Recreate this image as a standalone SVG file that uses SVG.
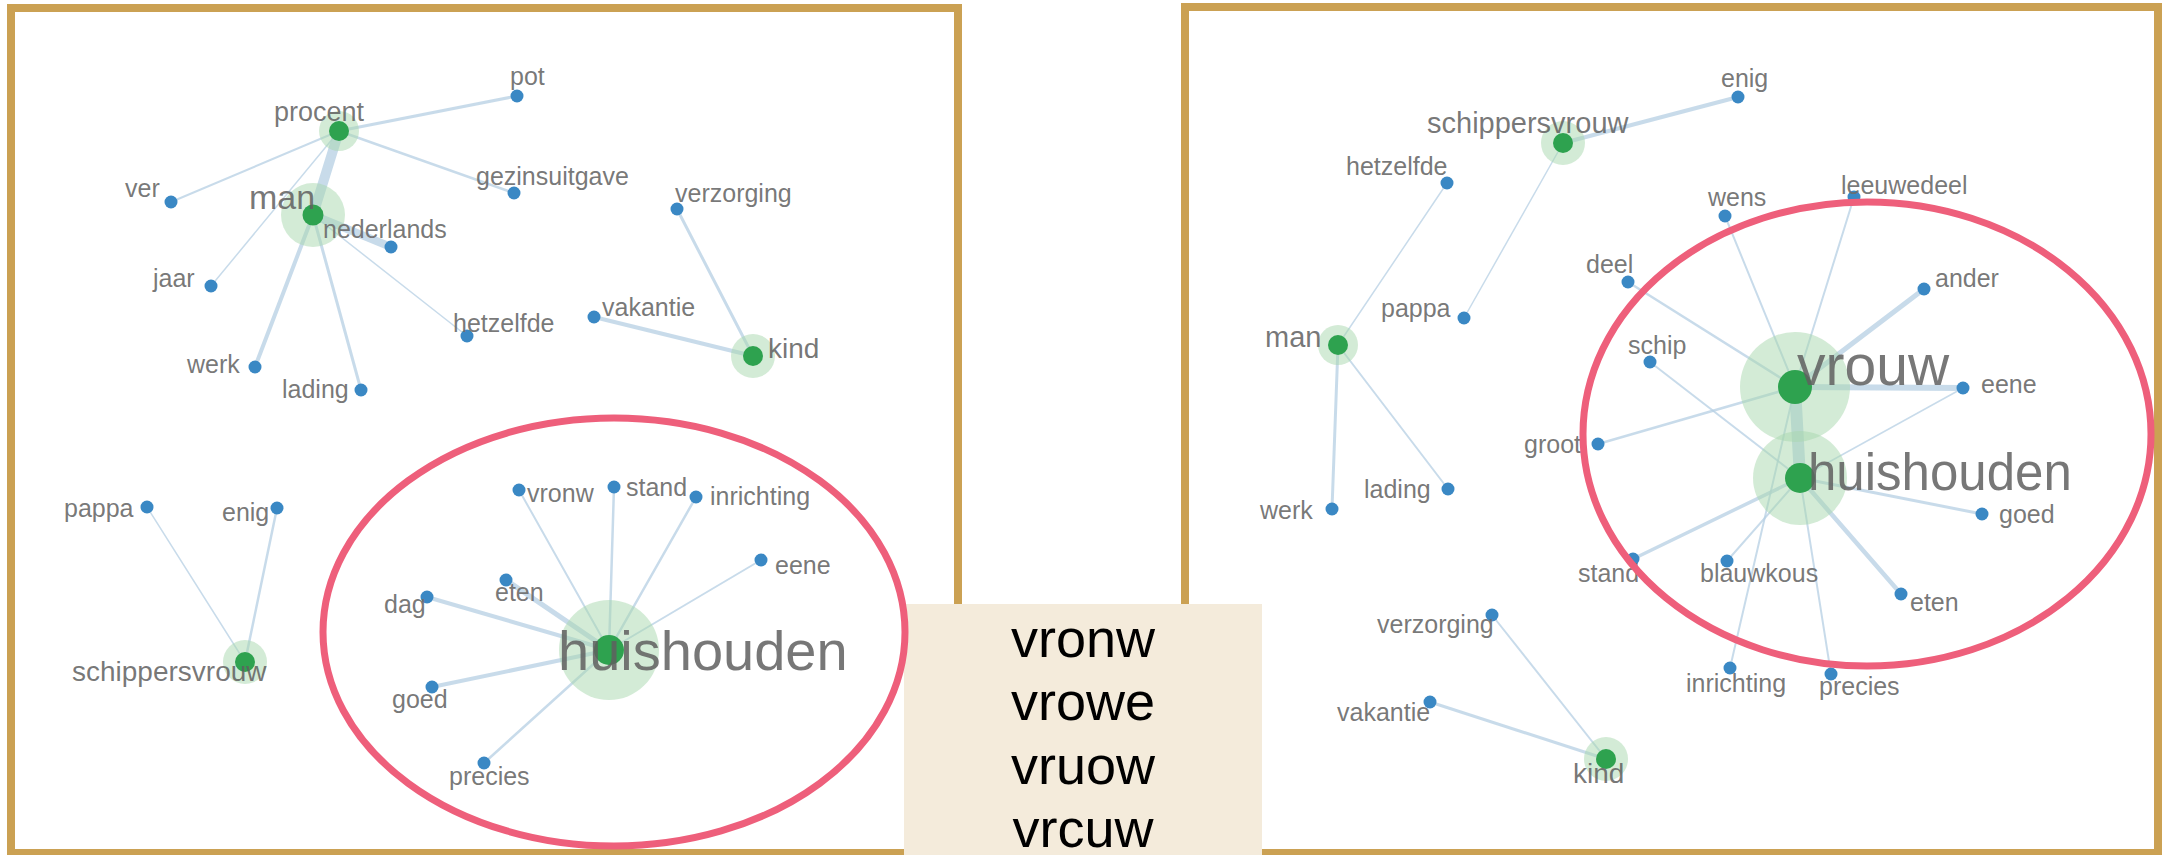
<svg xmlns="http://www.w3.org/2000/svg" width="2165" height="855" viewBox="0 0 2165 855">
<style>
.frame{fill:#ffffff;stroke:#CBA153;stroke-width:8}
.ring{fill:none;stroke:#EE5F7B;stroke-width:7}
.e{stroke:#b5cfe3;stroke-opacity:0.75;stroke-linecap:round;fill:none}
.halo{fill:#a8d8ad;fill-opacity:0.5}
.g{fill:#2ea24f}
.b{fill:#3a88c4}
.t{font-family:"Liberation Sans",Arial,sans-serif;font-size:25px;fill:#6c6c6c;fill-opacity:0.92}
.big{fill:#5f5f5f;fill-opacity:0.85}
.box{font-family:"Liberation Sans",Arial,sans-serif;font-size:54px;fill:#000;text-anchor:middle}
</style>
<rect x="0" y="0" width="2165" height="855" fill="#ffffff"/>
<rect class="frame" x="11" y="8" width="947" height="845"/>
<rect class="frame" x="1185" y="7" width="973" height="846"/>

<g id="connectors">
<!-- left panel -->
<line class="e" x1="339" y1="131" x2="517" y2="96" stroke-width="3"/>
<line class="e" x1="339" y1="131" x2="171" y2="202" stroke-width="2"/>
<line class="e" x1="339" y1="131" x2="514" y2="193" stroke-width="2.5"/>
<line class="e" x1="339" y1="131" x2="313" y2="215" stroke-width="10"/>
<line class="e" x1="339" y1="131" x2="211" y2="286" stroke-width="1.5"/>
<line class="e" x1="313" y1="215" x2="391" y2="247" stroke-width="8"/>
<line class="e" x1="313" y1="215" x2="255" y2="367" stroke-width="4"/>
<line class="e" x1="313" y1="215" x2="361" y2="390" stroke-width="3"/>
<line class="e" x1="313" y1="215" x2="467" y2="336" stroke-width="1.5"/>
<line class="e" x1="753" y1="356" x2="677" y2="209" stroke-width="3"/>
<line class="e" x1="753" y1="356" x2="594" y2="317" stroke-width="4"/>
<line class="e" x1="245" y1="662" x2="147" y2="507" stroke-width="1.5"/>
<line class="e" x1="245" y1="662" x2="277" y2="508" stroke-width="2.5"/>
<line class="e" x1="609" y1="650" x2="519" y2="490" stroke-width="2"/>
<line class="e" x1="609" y1="650" x2="614" y2="487" stroke-width="2.5"/>
<line class="e" x1="609" y1="650" x2="696" y2="497" stroke-width="2.5"/>
<line class="e" x1="609" y1="650" x2="761" y2="560" stroke-width="2"/>
<line class="e" x1="609" y1="650" x2="506" y2="580" stroke-width="5"/>
<line class="e" x1="609" y1="650" x2="427" y2="597" stroke-width="4"/>
<line class="e" x1="609" y1="650" x2="432" y2="687" stroke-width="4"/>
<line class="e" x1="609" y1="650" x2="484" y2="763" stroke-width="2.5"/>
<!-- right panel -->
<line class="e" x1="1563" y1="143" x2="1738" y2="97" stroke-width="4"/>
<line class="e" x1="1563" y1="143" x2="1464" y2="318" stroke-width="1.5"/>
<line class="e" x1="1338" y1="345" x2="1447" y2="183" stroke-width="1.5"/>
<line class="e" x1="1338" y1="345" x2="1332" y2="509" stroke-width="3"/>
<line class="e" x1="1338" y1="345" x2="1448" y2="489" stroke-width="2"/>
<line class="e" x1="1795" y1="387" x2="1800" y2="478" stroke-width="12"/>
<line class="e" x1="1795" y1="387" x2="1725" y2="216" stroke-width="2"/>
<line class="e" x1="1795" y1="387" x2="1854" y2="197" stroke-width="2"/>
<line class="e" x1="1795" y1="387" x2="1628" y2="282" stroke-width="2.5"/>
<line class="e" x1="1795" y1="387" x2="1924" y2="289" stroke-width="5"/>
<line class="e" x1="1795" y1="387" x2="1963" y2="388" stroke-width="6"/>
<line class="e" x1="1795" y1="387" x2="1598" y2="444" stroke-width="2.5"/>
<line class="e" x1="1795" y1="387" x2="1730" y2="668" stroke-width="2"/>
<line class="e" x1="1800" y1="478" x2="1650" y2="362" stroke-width="2"/>
<line class="e" x1="1800" y1="478" x2="1963" y2="388" stroke-width="1.5"/>
<line class="e" x1="1800" y1="478" x2="1633" y2="559" stroke-width="3.5"/>
<line class="e" x1="1800" y1="478" x2="1727" y2="561" stroke-width="2"/>
<line class="e" x1="1800" y1="478" x2="1831" y2="674" stroke-width="2"/>
<line class="e" x1="1800" y1="478" x2="1901" y2="594" stroke-width="4.5"/>
<line class="e" x1="1800" y1="478" x2="1982" y2="514" stroke-width="3"/>
<line class="e" x1="1606" y1="759" x2="1492" y2="615" stroke-width="2"/>
<line class="e" x1="1606" y1="759" x2="1430" y2="702" stroke-width="3"/>
</g>

<!-- left panel nodes -->
<g id="L-pot"><circle class="b" cx="517" cy="96" r="6.5"/><text class="t" x="510" y="85">pot</text></g>
<g id="L-procent"><circle class="halo" cx="339" cy="131" r="20"/><circle class="g" cx="339" cy="131" r="10"/><text class="t big" x="274" y="121" style="font-size:27px">procent</text></g>
<g id="L-ver"><circle class="b" cx="171" cy="202" r="6.5"/><text class="t" x="125" y="197">ver</text></g>
<g id="L-man"><circle class="halo" cx="313" cy="215" r="32"/><circle class="g" cx="313" cy="215" r="10.5"/><text class="t big" x="249" y="209" style="font-size:34px">man</text></g>
<g id="L-gezinsuitgave"><circle class="b" cx="514" cy="193" r="6.5"/><text class="t" x="476" y="185">gezinsuitgave</text></g>
<g id="L-verzorging"><circle class="b" cx="677" cy="209" r="6.5"/><text class="t" x="675" y="202">verzorging</text></g>
<g id="L-nederlands"><circle class="b" cx="391" cy="247" r="6.5"/><text class="t" x="323" y="238">nederlands</text></g>
<g id="L-jaar"><circle class="b" cx="211" cy="286" r="6.5"/><text class="t" x="153" y="287">jaar</text></g>
<g id="L-hetzelfde"><circle class="b" cx="467" cy="336" r="6.5"/><text class="t" x="453" y="332">hetzelfde</text></g>
<g id="L-vakantie"><circle class="b" cx="594" cy="317" r="6.5"/><text class="t" x="602" y="316">vakantie</text></g>
<g id="L-kind"><circle class="halo" cx="753" cy="356" r="22"/><circle class="g" cx="753" cy="356" r="10"/><text class="t big" x="768" y="358" style="font-size:28px">kind</text></g>
<g id="L-werk"><circle class="b" cx="255" cy="367" r="6.5"/><text class="t" x="187" y="373">werk</text></g>
<g id="L-lading"><circle class="b" cx="361" cy="390" r="6.5"/><text class="t" x="282" y="398">lading</text></g>
<g id="L-pappa"><circle class="b" cx="147" cy="507" r="6.5"/><text class="t" x="64" y="517">pappa</text></g>
<g id="L-enig"><circle class="b" cx="277" cy="508" r="6.5"/><text class="t" x="222" y="521">enig</text></g>
<g id="L-schippersvrouw"><circle class="halo" cx="245" cy="662" r="22"/><circle class="g" cx="245" cy="662" r="10"/><text class="t big" x="72" y="681" style="font-size:28px">schippersvrouw</text></g>
<g id="L-huishouden"><circle class="halo" cx="609" cy="650" r="50"/><circle class="g" cx="609" cy="650" r="15"/><text class="t big" x="558" y="670" style="font-size:56px">huishouden</text></g>
<g id="L-vronw"><circle class="b" cx="519" cy="490" r="6.5"/><text class="t" x="527" y="502">vronw</text></g>
<g id="L-stand"><circle class="b" cx="614" cy="487" r="6.5"/><text class="t" x="626" y="496">stand</text></g>
<g id="L-inrichting"><circle class="b" cx="696" cy="497" r="6.5"/><text class="t" x="710" y="505">inrichting</text></g>
<g id="L-eene"><circle class="b" cx="761" cy="560" r="6.5"/><text class="t" x="775" y="574">eene</text></g>
<g id="L-eten"><circle class="b" cx="506" cy="580" r="6.5"/><text class="t" x="495" y="601">eten</text></g>
<g id="L-dag"><circle class="b" cx="427" cy="597" r="6.5"/><text class="t" x="384" y="613">dag</text></g>
<g id="L-goed"><circle class="b" cx="432" cy="687" r="6.5"/><text class="t" x="392" y="708">goed</text></g>
<g id="L-precies"><circle class="b" cx="484" cy="763" r="6.5"/><text class="t" x="449" y="785">precies</text></g>

<!-- right panel nodes -->
<g id="R-enig"><circle class="b" cx="1738" cy="97" r="6.5"/><text class="t" x="1721" y="87">enig</text></g>
<g id="R-schippersvrouw"><circle class="halo" cx="1563" cy="143" r="22"/><circle class="g" cx="1563" cy="143" r="10"/><text class="t big" x="1427" y="133" style="font-size:29px">schippersvrouw</text></g>
<g id="R-hetzelfde"><circle class="b" cx="1447" cy="183" r="6.5"/><text class="t" x="1346" y="175">hetzelfde</text></g>
<g id="R-wens"><circle class="b" cx="1725" cy="216" r="6.5"/><text class="t" x="1708" y="206">wens</text></g>
<g id="R-leeuwedeel"><circle class="b" cx="1854" cy="197" r="6.5"/><text class="t" x="1841" y="194">leeuwedeel</text></g>
<g id="R-deel"><circle class="b" cx="1628" cy="282" r="6.5"/><text class="t" x="1586" y="273">deel</text></g>
<g id="R-ander"><circle class="b" cx="1924" cy="289" r="6.5"/><text class="t" x="1935" y="287">ander</text></g>
<g id="R-pappa"><circle class="b" cx="1464" cy="318" r="6.5"/><text class="t" x="1381" y="317">pappa</text></g>
<g id="R-man"><circle class="halo" cx="1338" cy="345" r="20"/><circle class="g" cx="1338" cy="345" r="10"/><text class="t big" x="1265" y="347" style="font-size:29px">man</text></g>
<g id="R-schip"><circle class="b" cx="1650" cy="362" r="6.5"/><text class="t" x="1628" y="354">schip</text></g>
<g id="R-eene"><circle class="b" cx="1963" cy="388" r="6.5"/><text class="t" x="1981" y="393">eene</text></g>
<g id="R-groot"><circle class="b" cx="1598" cy="444" r="6.5"/><text class="t" x="1524" y="453">groot</text></g>
<g id="R-huishouden"><circle class="halo" cx="1800" cy="478" r="47"/><circle class="g" cx="1800" cy="478" r="15"/><text class="t big" x="1808" y="490" style="font-size:51px">huishouden</text></g>
<g id="R-vrouw"><circle class="halo" cx="1795" cy="387" r="55"/><circle class="g" cx="1795" cy="387" r="17"/><text class="t big" x="1797" y="385" style="font-size:57px">vrouw</text></g>
<g id="R-lading"><circle class="b" cx="1448" cy="489" r="6.5"/><text class="t" x="1364" y="498">lading</text></g>
<g id="R-werk"><circle class="b" cx="1332" cy="509" r="6.5"/><text class="t" x="1260" y="519">werk</text></g>
<g id="R-goed"><circle class="b" cx="1982" cy="514" r="6.5"/><text class="t" x="1999" y="523">goed</text></g>
<g id="R-stand"><circle class="b" cx="1633" cy="559" r="6.5"/><text class="t" x="1578" y="582">stand</text></g>
<g id="R-blauwkous"><circle class="b" cx="1727" cy="561" r="6.5"/><text class="t" x="1700" y="582">blauwkous</text></g>
<g id="R-eten"><circle class="b" cx="1901" cy="594" r="6.5"/><text class="t" x="1910" y="611">eten</text></g>
<g id="R-verzorging"><circle class="b" cx="1492" cy="615" r="6.5"/><text class="t" x="1377" y="633">verzorging</text></g>
<g id="R-inrichting"><circle class="b" cx="1730" cy="668" r="6.5"/><text class="t" x="1686" y="692">inrichting</text></g>
<g id="R-precies"><circle class="b" cx="1831" cy="674" r="6.5"/><text class="t" x="1819" y="695">precies</text></g>
<g id="R-vakantie"><circle class="b" cx="1430" cy="702" r="6.5"/><text class="t" x="1337" y="721">vakantie</text></g>
<g id="R-kind"><circle class="halo" cx="1606" cy="759" r="22"/><circle class="g" cx="1606" cy="759" r="10"/><text class="t big" x="1573" y="783" style="font-size:28px">kind</text></g>

<g id="variants">
<rect x="904" y="604" width="358" height="251" fill="#F4EBDB"/>
<text class="box" x="1083" y="657">vronw</text>
<text class="box" x="1083" y="720">vrowe</text>
<text class="box" x="1083" y="784">vruow</text>
<text class="box" x="1083" y="847">vrcuw</text>
</g>

<g id="highlights">
<ellipse class="ring" cx="614" cy="632" rx="291" ry="214"/>
<ellipse class="ring" cx="1867" cy="434" rx="284" ry="232"/>
</g>
</svg>
